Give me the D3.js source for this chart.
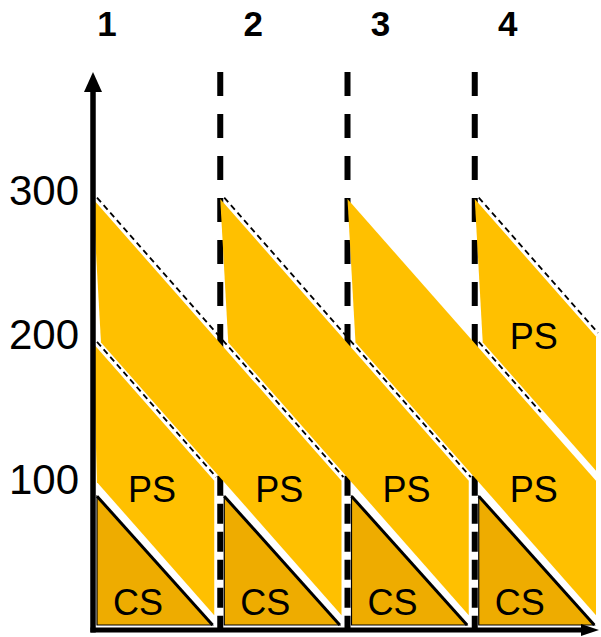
<!DOCTYPE html>
<html><head><meta charset="utf-8">
<script src="https://cdn.jsdelivr.net/npm/d3@7"></script>
<style>body{margin:0;background:#fff}svg{display:block}</style>
</head><body>
<svg id="chart" width="601" height="637"></svg>
<script>
// ---- data ----
const columns = ["1", "2", "3", "4"];
const yTicks = [100, 200, 300];
const stripeStarts = [-1, 0, 1, 2, 3];          // column where each PS stripe enters at the 300 level
const stripeTopLevel = 300;                       // level where a stripe enters
const stripeDepth = 100;                          // vertical thickness of a stripe
const dashedEdges = [                             // dashed top edge of each stripe, in column units
  {stripe: -1, from: 0, to: 1},
  {stripe: 0,  from: 0, to: 2},
  {stripe: 1,  from: 1, to: 3},
  {stripe: 2,  from: 3, to: 3.55},
  {stripe: 3,  from: 3, to: 4}
];
const psLabels = [
  {col: 0, level: 98}, {col: 1, level: 98}, {col: 2, level: 98},
  {col: 3, level: 98}, {col: 3, level: 204}
];
const csLabels = [0, 1, 2, 3];

// ---- setup ----
const svg = d3.select("#chart");
const x = d3.scaleLinear().domain([0, 4]).range([93, 602]);
const y = d3.scaleLinear().domain([0, 300]).range([630, 197]);
const colW = x(1) - x(0);
const slope = (y(stripeTopLevel - stripeDepth) - y(stripeTopLevel)) / colW;
const T = (s, px) => y(stripeTopLevel) + (px - x(s)) * slope;   // top edge line of stripe s
const YELLOW = "#FFC000", GOLD = "#EEAC00";
const FONT = "'Liberation Sans', Arial, sans-serif";

// ---- vertical dashed column separators ----
const seps = d3.range(1, columns.length);
svg.selectAll("line.sepTop").data(seps).join("line")
  .attr("x1", d => x(d)).attr("x2", d => x(d))
  .attr("y1", 72).attr("y2", y(100) - 10)
  .attr("stroke", "#000").attr("stroke-width", 6)
  .attr("stroke-dasharray", "24,18");
svg.selectAll("line.sepBot").data(seps).join("line")
  .attr("x1", d => x(d)).attr("x2", d => x(d))
  .attr("y1", y(100) - 10).attr("y2", y(0))
  .attr("stroke", "#000").attr("stroke-width", 6)
  .attr("stroke-dasharray", "20,8");

// ---- PS stripes ----
const stripePts = s => {
  const xL = x(Math.max(s, 0));
  const xR = Math.min(x(s + 2), x(4)) - 6;
  const lean = s >= 0 ? 8 : 4;
  return [
    [xL, T(s, xL) + 2],
    [xR, T(s, xR) + 2],
    [xR, T(s - 1, xR) - 8],
    [xL + lean, T(s - 1, xL + lean) - 8]
  ];
};
svg.selectAll("polygon.stripe").data(stripeStarts).join("polygon")
  .attr("points", d => stripePts(d).join(" "))
  .attr("fill", YELLOW);

// ---- dashed diagonal edges ----
svg.selectAll("line.diag").data(dashedEdges).join("line")
  .attr("x1", d => x(d.from) + 4).attr("y1", d => T(d.stripe, x(d.from) + 4) - 4)
  .attr("x2", d => x(d.to) - 4).attr("y2", d => T(d.stripe, x(d.to) - 4) - 4)
  .attr("stroke", "#000").attr("stroke-width", 1.8)
  .attr("stroke-dasharray", "6,4");

// ---- CS triangles ----
const triPts = c => {
  const xl = x(c) + 4;
  const yb = y(0) - 5;
  const xr = x(c) + (yb - 6 - y(100)) / slope + 2;
  return [[xl, T(c - 2, xl) + 6], [xl, yb], [xr, yb]];
};
const tri = svg.selectAll("g.tri").data(d3.range(columns.length)).join("g");
tri.append("polygon")
  .attr("points", d => triPts(d).join(" "))
  .attr("fill", GOLD).attr("stroke", "#000").attr("stroke-width", 1.2);
tri.append("line")
  .attr("x1", d => triPts(d)[0][0]).attr("y1", d => triPts(d)[0][1])
  .attr("x2", d => triPts(d)[2][0]).attr("y2", d => triPts(d)[2][1])
  .attr("stroke", "#000").attr("stroke-width", 3);

// ---- axes ----
svg.append("line").attr("x1", x(0)).attr("x2", x(0))
  .attr("y1", y(0) + 2.5).attr("y2", 90)
  .attr("stroke", "#000").attr("stroke-width", 5.5);
svg.append("polygon")
  .attr("points", [[x(0), 72], [x(0) - 9, 92], [x(0) + 9, 92]].join(" "))
  .attr("fill", "#000");
svg.append("line").attr("x1", x(0) - 2.5).attr("x2", 584)
  .attr("y1", y(0)).attr("y2", y(0))
  .attr("stroke", "#000").attr("stroke-width", 5);
svg.append("polygon")
  .attr("points", [[599, y(0)], [581, y(0) - 6], [581, y(0) + 6]].join(" "))
  .attr("fill", "#000");

// ---- tick labels ----
svg.selectAll("text.tick").data(yTicks).join("text")
  .attr("x", 79).attr("y", d => y(d) + 8)
  .attr("text-anchor", "end")
  .attr("font-family", FONT).attr("font-size", 42)
  .attr("fill", "#000")
  .text(d => d);

// ---- column numbers ----
svg.selectAll("text.col").data(columns).join("text")
  .attr("x", (d, i) => x(i) + (i === 0 ? 14 : 33)).attr("y", 36)
  .attr("text-anchor", "middle")
  .attr("font-family", FONT).attr("font-size", 35).attr("font-weight", "bold")
  .attr("fill", "#000")
  .text(d => d);

// ---- PS / CS labels ----
svg.selectAll("text.ps").data(psLabels).join("text")
  .attr("x", d => x(d.col) + 59).attr("y", d => y(d.level) + 13)
  .attr("text-anchor", "middle")
  .attr("font-family", FONT).attr("font-size", 36)
  .attr("fill", "#000")
  .text("PS");
svg.selectAll("text.cs").data(csLabels).join("text")
  .attr("x", d => x(d) + 45).attr("y", y(0) - 15)
  .attr("text-anchor", "middle")
  .attr("font-family", FONT).attr("font-size", 36)
  .attr("fill", "#000")
  .text("CS");
</script>
</body></html>
